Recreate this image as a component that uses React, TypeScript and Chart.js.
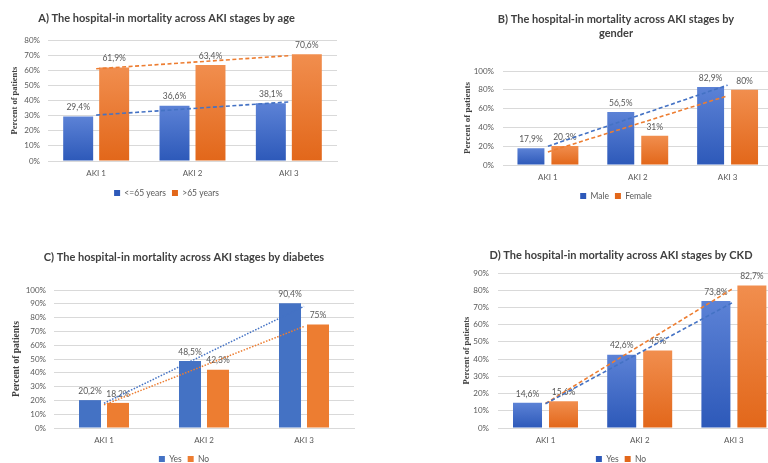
import { useEffect, useRef } from "react";
import { Chart, registerables } from "chart.js";

Chart.register(...registerables);

// ---------- data ----------
const categories = ["AKI 1", "AKI 2", "AKI 3"];
const yAxisTitle = "Percent of patients";

const ageSeries = ["<=65 years", ">65 years"];
const ageYoung = [29.4, 36.6, 38.1];
const ageOld = [61.9, 63.4, 70.6];

const genderSeries = ["Male", "Female"];
const genderMale = [17.9, 56.5, 82.9];
const genderFemale = [20.3, 31, 80];

const yesNoSeries = ["Yes", "No"];
const diabetesYes = [20.2, 48.5, 90.4];
const diabetesNo = [18.2, 42.3, 75];
const ckdYes = [14.6, 42.6, 73.8];
const ckdNo = [15.6, 45, 82.7];

const titleA = ["A) The hospital-in mortality across AKI stages by age"];
const titleB = ["B) The hospital-in mortality across AKI stages by", "gender"];
const titleC = ["C) The hospital-in mortality across AKI stages by diabetes"];
const titleD = ["D) The hospital-in mortality across AKI stages by CKD"];

const yMaxA = 80;
const yMaxB = 100;
const yMaxC = 100;
const yMaxD = 90;
const yStepA = 10;
const yStepB = 20;
const yStepC = 10;
const yStepD = 10;

// ---------- styles ----------
const FONT = "Lato";
const SERIF = "Liberation Serif";
const TEXT_GREY = "#595959";
const TITLE_COLOR = "#404040";
const GRID = "#d9d9d9";
const BLUE = "#4472c4";
const ORANGE = "#ed7d31";
const BLUE_LIGHT = "#5c82d6";
const BLUE_DARK = "#2d59b9";
const ORANGE_LIGHT = "#f18e4e";
const ORANGE_DARK = "#e2671a";

const TITLE_SIZE = 11;
const TITLE_LH = 14 / 11;
const TICK_SIZE = 8;
const CAT_SIZE = 8;
const LEG_SIZE = 8.5;
const LEG_PAD = 6;
const LABEL_SIZE = 8.5;

interface PanelCfg {
  title: string[];
  series: string[];
  a: number[];
  b: number[];
  yMax: number;
  yStep: number;
  regionTop: number;
  plotL: number;
  plotR: number;
  plotT: number;
  plotB: number;
  titleCX: number;
  titleCY: number;
  axisTitleX: number;
  axisTitleSize: number;
  yLabelRight: number;
  xLabelCY: number;
  legendCY: number;
  catPct: number;
  barPct: number;
  gradient: boolean;
  dash: number[];
  cap: CanvasLineCap;
  trendWidth: number;
}

const panels: PanelCfg[] = [
  {
    title: titleA, series: ageSeries, a: ageYoung, b: ageOld, yMax: yMaxA, yStep: yStepA,
    regionTop: 0, plotL: 48, plotR: 337, plotT: 40, plotB: 161,
    titleCX: 166.5, titleCY: 18, axisTitleX: 15, axisTitleSize: 8.5, yLabelRight: 40,
    xLabelCY: 173, legendCY: 193, catPct: 0.747, barPct: 0.833, gradient: true,
    dash: [4, 2.5], cap: "butt", trendWidth: 1.6,
  },
  {
    title: titleB, series: genderSeries, a: genderMale, b: genderFemale, yMax: yMaxB, yStep: yStepB,
    regionTop: 0, plotL: 503, plotR: 772.5, plotT: 71, plotB: 165,
    titleCX: 616, titleCY: 19, axisTitleX: 468, axisTitleSize: 9, yLabelRight: 494,
    xLabelCY: 177, legendCY: 196, catPct: 0.756, barPct: 0.794, gradient: true,
    dash: [4, 2.5], cap: "butt", trendWidth: 1.6,
  },
  {
    title: titleC, series: yesNoSeries, a: diabetesYes, b: diabetesNo, yMax: yMaxC, yStep: yStepC,
    regionTop: 232, plotL: 54, plotR: 354, plotT: 290, plotB: 428,
    titleCX: 184, titleCY: 257, axisTitleX: 17, axisTitleSize: 9.5, yLabelRight: 46,
    xLabelCY: 440, legendCY: 459, catPct: 0.56, barPct: 0.786, gradient: false,
    dash: [1.5, 1.5], cap: "butt", trendWidth: 1.5,
  },
  {
    title: titleD, series: yesNoSeries, a: ckdYes, b: ckdNo, yMax: yMaxD, yStep: yStepD,
    regionTop: 232, plotL: 498.4, plotR: 781, plotT: 273, plotB: 428,
    titleCX: 621, titleCY: 255, axisTitleX: 467, axisTitleSize: 8.5, yLabelRight: 489,
    xLabelCY: 440, legendCY: 459, catPct: 0.764, barPct: 0.806, gradient: true,
    dash: [4, 2.5], cap: "butt", trendWidth: 1.6,
  },
];

// linear least-squares trendline (as Excel draws it), evaluated at each category
function trend(values: number[]): number[] {
  const n = values.length;
  const xs = values.map((_, i) => i + 1);
  const mx = xs.reduce((s, x) => s + x, 0) / n;
  const my = values.reduce((s, v) => s + v, 0) / n;
  let num = 0;
  let den = 0;
  xs.forEach((x, i) => {
    num += (x - mx) * (values[i] - my);
    den += (x - mx) * (x - mx);
  });
  const slope = num / den;
  return xs.map((x) => my + slope * (x - mx));
}

function fmtLabel(v: number): string {
  return String(v).replace(".", ",") + "%";
}

function barFill(flat: string, light: string, dark: string, gradient: boolean) {
  return (c: any) => {
    if (!gradient || c.type !== "data") return flat;
    const chart = c.chart;
    const y = chart.scales && chart.scales.y;
    if (!y || !c.parsed) return flat;
    const top = y.getPixelForValue(c.parsed.y);
    const base = y.getPixelForValue(0);
    if (!isFinite(top) || !isFinite(base) || base - top < 1) return flat;
    const g = chart.ctx.createLinearGradient(0, top, 0, base);
    g.addColorStop(0, light);
    g.addColorStop(1, dark);
    return g;
  };
}

const valueLabels = {
  id: "valueLabels",
  afterDatasetDraw(chart: any, args: any) {
    const meta = args.meta;
    if (meta.type !== "bar") return;
    const ds = chart.data.datasets[args.index];
    const ctx = chart.ctx;
    ctx.save();
    ctx.font = `${LABEL_SIZE}px ${FONT}`;
    ctx.fillStyle = TEXT_GREY;
    ctx.textAlign = "center";
    ctx.textBaseline = "middle";
    meta.data.forEach((el: any, i: number) => {
      ctx.fillText(fmtLabel(ds.data[i]), el.x, el.y - 9);
    });
    ctx.restore();
  },
};

function geometry(cfg: PanelCfg) {
  // the title/legend box spans [boxLeft, plotR]; its centre must be titleCX
  const boxLeft = 2 * cfg.titleCX - cfg.plotR;
  const cLeft = Math.floor(Math.min(boxLeft, cfg.axisTitleX - 10));
  const padL = boxLeft - cLeft;
  const W = Math.ceil(cfg.plotR + 4 - cLeft);
  const padR = cLeft + W - cfg.plotR;
  const cTop = cfg.regionTop;
  const tLine = TITLE_SIZE * TITLE_LH;
  const tPadTop = cfg.titleCY - cTop - tLine / 2;
  const tPadBottom = cfg.plotT - cTop - tPadTop - tLine * cfg.title.length;
  const yAxisW = cfg.plotL - boxLeft;
  const axisTitleOffset = Math.max(cfg.axisTitleX - boxLeft, 1);
  const yTickPad = cfg.plotL - cfg.yLabelRight;
  const legendTop = cfg.legendCY - LEG_PAD - LEG_SIZE / 2;
  const legendH = LEG_SIZE + LEG_PAD + 10;
  const xAxisH = legendTop - cfg.plotB;
  const xTickPad = cfg.xLabelCY - cfg.plotB - (CAT_SIZE * 1.2) / 2;
  const H = Math.ceil(legendTop + legendH - cTop) + 1;
  const padB = cTop + H - (legendTop + legendH);
  return { cLeft, W, padL, padR, cTop, tPadTop, tPadBottom, yAxisW, axisTitleOffset, yTickPad, xAxisH, xTickPad, H, padB };
}

function Panel({ cfg }: { cfg: PanelCfg }) {
  const ref = useRef<HTMLCanvasElement>(null);
  const g = geometry(cfg);

  useEffect(() => {
    const canvas = ref.current;
    if (!canvas) return;
    const trendDs = (values: number[], color: string, label: string) =>
      ({
        type: "line",
        label,
        data: trend(values),
        borderColor: color,
        borderWidth: cfg.trendWidth,
        borderDash: cfg.dash,
        borderCapStyle: cfg.cap,
        pointRadius: 0,
        pointHoverRadius: 0,
        fill: false,
        tension: 0,
        order: 0,
      }) as any;
    const barDs = (values: number[], label: string, flat: string, light: string, dark: string) =>
      ({
        type: "bar",
        label,
        data: values,
        backgroundColor: barFill(flat, light, dark, cfg.gradient),
        borderWidth: 0,
        categoryPercentage: cfg.catPct,
        barPercentage: cfg.barPct,
        order: 1,
      }) as any;

    const chart = new Chart(canvas, {
      type: "bar",
      data: {
        labels: categories,
        datasets: [
          trendDs(cfg.a, BLUE, "trend-a"),
          trendDs(cfg.b, ORANGE, "trend-b"),
          barDs(cfg.a, cfg.series[0], BLUE, BLUE_LIGHT, BLUE_DARK),
          barDs(cfg.b, cfg.series[1], ORANGE, ORANGE_LIGHT, ORANGE_DARK),
        ],
      },
      options: {
        responsive: false,
        animation: false,
        events: [],
        layout: { padding: { left: g.padL, right: g.padR, top: 0, bottom: g.padB } },
        plugins: {
          tooltip: { enabled: false },
          title: {
            display: true,
            text: cfg.title,
            color: TITLE_COLOR,
            font: { family: FONT, size: TITLE_SIZE, weight: "bold", lineHeight: TITLE_LH },
            padding: { top: g.tPadTop, bottom: g.tPadBottom },
          },
          legend: {
            display: true,
            position: "bottom",
            labels: {
              boxWidth: 6,
              boxHeight: 6,
              padding: LEG_PAD,
              color: TEXT_GREY,
              font: { family: FONT, size: LEG_SIZE },
              filter: (item: any, data: any) => data.datasets[item.datasetIndex].type !== "line",
            },
          },
        },
        scales: {
          x: {
            grid: { display: false, drawTicks: false },
            border: { display: true, color: GRID, width: 1 },
            ticks: { color: TEXT_GREY, font: { family: FONT, size: CAT_SIZE }, padding: g.xTickPad },
            afterFit: (s: any) => {
              s.height = g.xAxisH;
            },
          },
          y: {
            min: 0,
            max: cfg.yMax,
            ticks: {
              stepSize: cfg.yStep,
              color: TEXT_GREY,
              font: { family: FONT, size: TICK_SIZE },
              padding: g.yTickPad,
              callback: (v: any) => v + "%",
            },
            grid: { color: GRID, lineWidth: 1, drawTicks: false },
            border: { display: false },
            title: {
              display: true,
              text: yAxisTitle,
              color: TITLE_COLOR,
              font: {
                family: SERIF,
                size: cfg.axisTitleSize,
                weight: "bold",
                lineHeight: `${2 * g.axisTitleOffset}px`,
              },
              padding: 0,
            },
            afterFit: (s: any) => {
              s.width = g.yAxisW;
            },
          },
        },
      } as any,
      plugins: [valueLabels],
    });
    return () => chart.destroy();
  }, []);

  return (
    <canvas
      ref={ref}
      width={g.W}
      height={g.H}
      style={{ position: "absolute", left: g.cLeft, top: g.cTop, width: g.W, height: g.H }}
    />
  );
}

export default function App() {
  return (
    <div
      style={{
        position: "fixed",
        left: 0,
        top: 0,
        width: 768,
        height: 463,
        overflow: "hidden",
        background: "#ffffff",
      }}
    >
      {panels.map((p, i) => (
        <Panel key={i} cfg={p} />
      ))}
    </div>
  );
}
